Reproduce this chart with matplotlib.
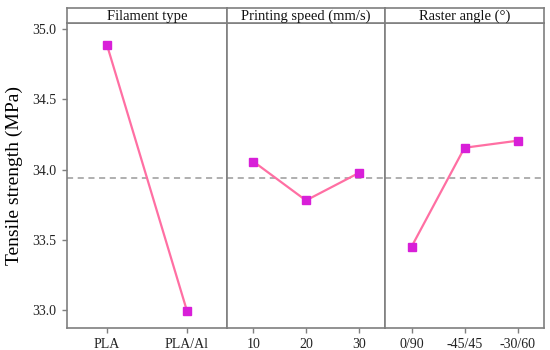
import matplotlib
matplotlib.use("Agg")
import matplotlib.pyplot as plt

plt.rcParams['font.family'] = ['Liberation Serif', 'DejaVu Serif']

factors = ["Filament type", "Printing speed (mm/s)", "Raster angle (°)"]
levels = [["PLA", "PLA/Al"], ["10", "20", "30"], ["0/90", "-45/45", "-30/60"]]
means = [[34.886, 32.993], [34.057, 33.78, 33.975], [33.45, 34.155, 34.205]]
grand_mean = 33.94
yticks = [33.0, 33.5, 34.0, 34.5, 35.0]

fig = plt.figure(figsize=(5.5, 3.5), dpi=100)
left, right = 67 / 550, 544 / 550
bottom, top = 1 - 328 / 350, 1 - 23 / 350
strip_top = 1 - 8 / 350
edges = [67, 227, 385, 544]
frame = "#7f7f7f"

axes = []
for i in range(3):
    x0 = edges[i] / 550
    w = (edges[i + 1] - edges[i]) / 550
    ax = fig.add_axes([x0, bottom, w, top - bottom])
    n = len(levels[i])
    xs = list(range(n))
    ax.plot(xs, means[i], color="#ff6fa3", lw=1.6, zorder=2)
    ax.plot(xs, means[i], ls="none", marker="s", ms=5.5, mfc="#d81fd8",
            mec="#d81fd8", zorder=3)
    ax.axhline(grand_mean, color="#9a9a9a", ls=(0, (4, 3)), lw=1.1, zorder=1)
    ax.set_xlim(-0.5, n - 0.5)
    ax.set_ylim(32.872, 35.043)
    ax.set_xticks(xs)
    ax.set_xticklabels(levels[i], fontsize=10)
    ax.set_yticks(yticks)
    if i == 0:
        ax.set_yticklabels([f"{v:.1f}" for v in yticks], fontsize=10)
        ax.set_ylabel("Tensile strength (MPa)", fontsize=14, labelpad=7)
    else:
        ax.tick_params(axis='y', left=False, labelleft=False)
    ax.tick_params(direction='out', color=frame, length=3.5, width=1,
                   labelcolor="#222222", pad=4)
    for s in ax.spines.values():
        s.set_color(frame)
        s.set_linewidth(1.2)
    axes.append(ax)

    sax = fig.add_axes([x0, top, w, strip_top - top])
    sax.set_xticks([])
    sax.set_yticks([])
    for s in sax.spines.values():
        s.set_color(frame)
        s.set_linewidth(1.2)
    sax.text(0.5, 0.45, factors[i], ha='center', va='center', fontsize=10.5,
             transform=sax.transAxes, color="#111111")

fig.savefig("out.png", dpi=100)
